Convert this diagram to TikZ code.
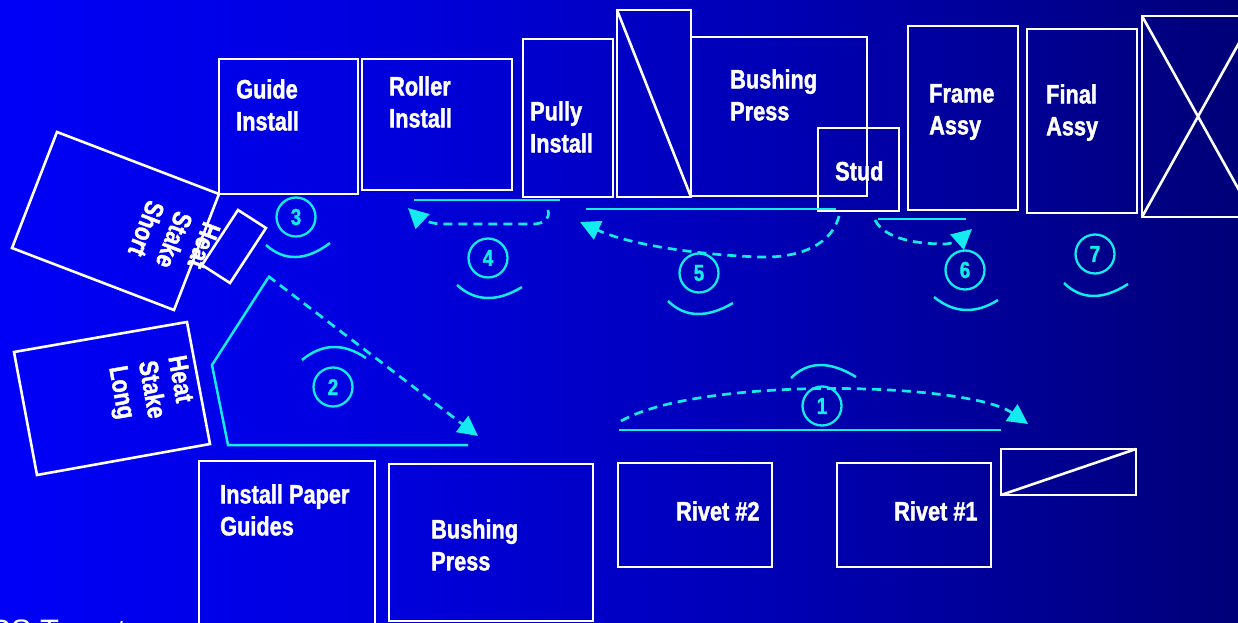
\documentclass[tikz,border=0pt]{standalone}
\usepackage{fontspec}
\setmainfont{Liberation Sans}[FakeStretch=0.82, BoldFeatures={FakeBold=1.5}]
\newfontfamily\plainsans{Liberation Sans}
\usetikzlibrary{arrows.meta}
\definecolor{cyanc}{RGB}{20,235,240}
\pgfdeclarehorizontalshading{bgshade}{100bp}{rgb(0bp)=(0,0,0.97); rgb(25bp)=(0,0,0.97); rgb(40bp)=(0,0,0.87); rgb(55bp)=(0,0,0.72); rgb(75bp)=(0,0,0.47); rgb(100bp)=(0,0,0.47)}
\begin{document}
\begin{tikzpicture}[x=1pt,y=-1pt,
  box/.style={draw=white, line width=2.6pt, line join=miter},
  cyl/.style={draw=cyanc, line width=2.5pt},
  dsh/.style={draw=cyanc, line width=2.7pt, dash pattern=on 9pt off 6pt, -{Triangle[length=20pt,width=20pt]}},
  lbl/.style={text=white, font=\fontsize{26.5}{32}\selectfont\bfseries, inner sep=0pt, align=left, anchor=north west},
  rlbl/.style={text=white, font=\fontsize{26.5}{30}\selectfont\bfseries, inner sep=0pt, align=left, anchor=center},
  num/.style={circle, draw=cyanc, line width=2.3pt, minimum size=39pt, inner sep=0pt, text=cyanc, font=\fontsize{23}{23}\selectfont\bfseries}]
\useasboundingbox (0,0) rectangle (1238,623);
\shade[shading=bgshade] (0,0) rectangle (1238,623);
\clip (0,0) rectangle (1238,623);
% top row boxes
\draw[box] (219,59) rectangle (358,194);
\draw[box] (362,59) rectangle (512,190);
\draw[box] (523,39) rectangle (613,197);
\draw[box] (617,10) rectangle (691,197);
\draw[box] (617,10) -- (691,197);
\draw[box] (691,37) rectangle (867,196);
\draw[box] (818,128) rectangle (899,211);
\draw[box] (908,26) rectangle (1018,210);
\draw[box] (1027,29) rectangle (1137,213);
\draw[box] (1142,16) rectangle (1254,217);
\draw[box] (1142,16) -- (1254,217);
\draw[box] (1142,217) -- (1254,16);
% bottom row boxes
\draw[box] (199,461) rectangle (375,640);
\draw[box] (389,464) rectangle (593,621);
\draw[box] (618,463) rectangle (772,567);
\draw[box] (837,463) rectangle (991,567);
\draw[box] (1001,449) rectangle (1136,495);
\draw[box] (1001,495) -- (1136,449);
% rotated boxes
\draw[box] (57,132) -- (219,194) -- (174,310) -- (12,248) -- cycle;
\draw[box] (238,210) -- (266,228) -- (230,283) -- (202,265) -- cycle;
\draw[box] (14,352) -- (187,322) -- (210,444) -- (37,475) -- cycle;
% cyan solid lines
\draw[cyl] (619,430) -- (1001,430);
\draw[cyl] (268,278) -- (212,365) -- (228,445) -- (468,445);
\draw[cyl] (414,200) -- (560,200);
\draw[cyl] (586,209) -- (836,209);
\draw[cyl] (878,219) -- (966,219);
% arcs
\draw[cyl] (266,245) .. controls (284.7,261.7) and (306,261) .. (330,243);
\draw[cyl] (457,285) .. controls (475.3,301.7) and (497,302.3) .. (522,287);
\draw[cyl] (668,301) .. controls (685,317.7) and (706.7,318.3) .. (733,303);
\draw[cyl] (934,297) .. controls (954,313.3) and (975.3,314.3) .. (998,300);
\draw[cyl] (1064,283) .. controls (1081.3,300) and (1102.7,300.3) .. (1128,284);
\draw[cyl] (302,360) .. controls (322,343.3) and (343.3,342.7) .. (366,358);
\draw[cyl] (791,378) .. controls (808,361) and (829.7,360.7) .. (856,377);
% dashed arrows
\draw[dsh] (621,421) .. controls (700,376) and (968,382) .. (1028,424);
\draw[dsh] (268,276) -- (478,436);
\draw[dsh] (548,210) .. controls (550,218) and (545.7,222.7) .. (535,224) -- (440,224) .. controls (429.3,223.3) and (418.7,218) .. (408,208);
\draw[dsh] (839,216) .. controls (830,250) and (790,258) .. (760,257) .. controls (700,255) and (630,245) .. (580,222);
\draw[dsh] (875,220) .. controls (885,240) and (920,244) .. (945,244) .. controls (951.7,244) and (960.7,239) .. (972,229);
% numbered circles
\node[num] (c1) at (822,406) {1};
\node[num] (c2) at (333,387) {2};
\node[num] (c3) at (296,217) {3};
\node[num] (c4) at (488,258) {4};
\node[num] (c5) at (699,273) {5};
\node[num] (c6) at (965,270) {6};
\node[num] (c7) at (1095,254) {7};
% labels
\node[lbl] (guide) at (236,79) {Guide\\Install};
\node[lbl] (roller) at (389,76) {Roller\\Install};
\node[lbl] (pully) at (530,101) {Pully\\Install};
\node[lbl] (bp1) at (730,69) {Bushing\\Press};
\node[lbl] (stud) at (835,161) {Stud};
\node[lbl] (frame) at (929,84) {Frame\\Assy};
\node[lbl] (final) at (1046,84) {Final\\Assy};
\node[lbl] (ipg) at (220,484) {Install Paper\\Guides};
\node[lbl] (bp2) at (431,519) {Bushing\\Press};
\node[lbl] (r2) at (676,501) {Rivet \#2};
\node[lbl] (r1) at (894,501) {Rivet \#1};
\node[rlbl, rotate=-111] (hss) at (174,240) {Heat\\Stake\\Short};
\node[rlbl, rotate=-80] (hsl) at (150,390) {Heat\\Stake\\Long};
\node[text=white, inner sep=0pt, anchor=base west, font=\plainsans\fontsize{31}{31}\selectfont] (ps) at (-10,641) {PS Target};
\end{tikzpicture}
\end{document}
